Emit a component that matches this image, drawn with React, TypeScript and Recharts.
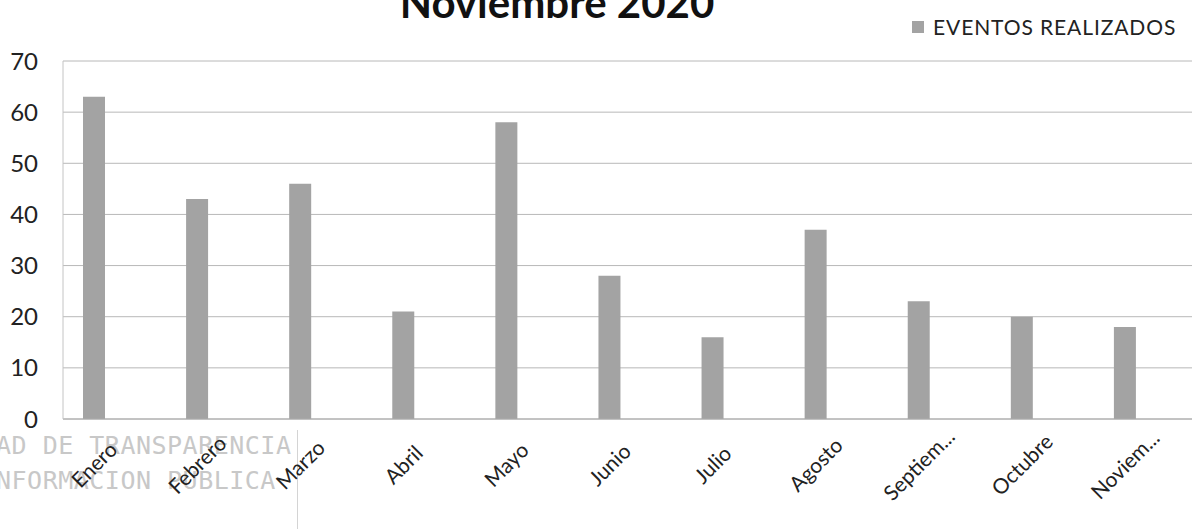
import { BarChart, Bar, XAxis, YAxis, CartesianGrid } from 'recharts';

const months = ['Enero', 'Febrero', 'Marzo', 'Abril', 'Mayo', 'Junio', 'Julio', 'Agosto', 'Septiem...', 'Octubre', 'Noviem...'];
const eventos = [63, 43, 46, 21, 58, 28, 16, 37, 23, 20, 18];
const yTicks = [0, 10, 20, 30, 40, 50, 60, 70];

const data = months.map((name, i) => ({ name, eventos: eventos[i] }));

const FONT = 'Lato, "Open Sans", sans-serif';
const BAR_COLOR = '#a3a3a3';

function MonthTick({ x, y, payload }: any) {
  const cy = y + 37;
  return (
    <text
      x={x}
      y={cy}
      transform={`rotate(-45 ${x} ${cy})`}
      textAnchor="middle"
      dominantBaseline="central"
      fill="#222"
      fontSize={21}
      fontFamily={FONT}
    >
      {payload.value}
    </text>
  );
}

export default function App() {
  return (
    <div style={{ position: 'absolute', left: 0, top: 0, width: 1196, height: 529, background: '#fff', overflow: 'hidden' }}>
      {/* faint stamp from the scanned page */}
      <div style={{ position: 'absolute', left: -4, top: 428, fontFamily: '"DejaVu Sans Mono", monospace', fontSize: 25, color: '#c8c8c8', lineHeight: '35px', letterSpacing: 0.5 }}>
        <div>AD DE TRANSPARENCIA</div>
        <div>NFORMACION PUBLICA</div>
      </div>
      <div style={{ position: 'absolute', left: 297, top: 430, width: 1, height: 99, background: '#d4d4d4' }} />

      {/* legend */}
      <div style={{ position: 'absolute', left: 912, top: 14, display: 'flex', alignItems: 'center', fontFamily: FONT, fontSize: 21, color: '#222', whiteSpace: 'nowrap', letterSpacing: 0.9 }}>
        <span style={{ width: 12, height: 12, background: BAR_COLOR, marginRight: 9, display: 'inline-block' }} />
        EVENTOS REALIZADOS
      </div>

      <div style={{ position: 'absolute', left: 0, top: 0 }}>
        <BarChart width={1196} height={529} data={data} margin={{ top: 61, right: 4, bottom: 0, left: 0 }}>
          <text x={557} y={18} textAnchor="middle" fontFamily={FONT} fontWeight={700} fontSize={42} fill="#111">
            Noviembre 2020
          </text>
          <CartesianGrid vertical={false} stroke="#b8b8b8" />
          <XAxis
            dataKey="name"
            interval={0}
            axisLine={{ stroke: '#aaa' }}
            tickLine={false}
            padding={{ left: -21, right: 16 }}
            tick={<MonthTick />}
            height={110}
          />
          <YAxis
            width={63}
            domain={[0, 70]}
            ticks={yTicks}
            interval={0}
            axisLine={{ stroke: '#c4c4c4' }}
            tickLine={false}
            tickMargin={19}
            tick={{ fill: '#222', fontSize: 24, fontFamily: FONT }}
          />
          <Bar dataKey="eventos" name="EVENTOS REALIZADOS" fill={BAR_COLOR} barSize={22} isAnimationActive={false} />
        </BarChart>
      </div>
    </div>
  );
}
